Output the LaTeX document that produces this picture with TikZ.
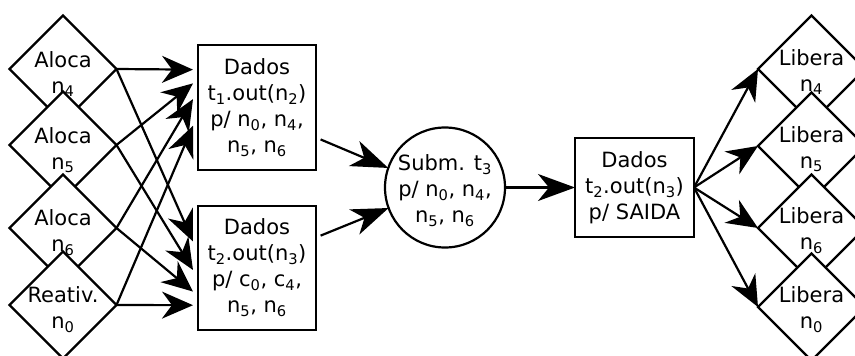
\documentclass[tikz,border=0pt]{standalone}
\usepackage{fontspec}
\setmainfont{DejaVu Sans}
\usetikzlibrary{arrows.meta,shapes.geometric,calc}
\newcommand\sbs[1]{\textsubscript{#1}}
\begin{document}
\begin{tikzpicture}[x=1pt,y=-1pt,line width=2.2pt,
  txt/.style={font=\fontsize{21}{26}\selectfont, align=center, inner sep=0pt},
  dia/.style={diamond, draw, fill=white, minimum width=107pt, minimum height=107pt, inner sep=0pt, outer sep=0pt},
  box/.style={rectangle, draw, fill=white, outer sep=0pt, txt},
  rnd/.style={circle, draw, fill=white, minimum size=120pt, inner sep=0pt, outer sep=0pt},
  arr/.style={-{Stealth[length=31pt,width=27pt,inset=10pt]}},
  longarr/.style={-{Stealth[length=37pt,width=27pt,inset=11pt]}}]
\useasboundingbox[fill=white] (0,0) rectangle (855,356);
\clip (0,0) rectangle (855,356);

% allocation / reactivation steps on the left
\node[dia] (a4) at (63,69) {};
\node[dia] (a5) at (63,145) {};
\node[dia] (a6) at (63,228) {};
\node[dia] (r0) at (63,305) {};
\node[txt] (a4t) at (63,74) {Aloca\\n\sbs{4}};
\node[txt] (a5t) at (63,150) {Aloca\\n\sbs{5}};
\node[txt] (a6t) at (63,233) {Aloca\\n\sbs{6}};
\node[txt] (r0t) at (63,310) {Reativ.\\n\sbs{0}};

% data transfers
\node[box, minimum width=118pt, minimum height=125pt] (b1) at (257,107.5)
  {Dados\\t\sbs{1}.out(n\sbs{2})\\p/ n\sbs{0}, n\sbs{4},\\n\sbs{5}, n\sbs{6}};
\node[box, minimum width=118pt, minimum height=124pt] (b2) at (257,268)
  {Dados\\t\sbs{2}.out(n\sbs{3})\\p/ c\sbs{0}, c\sbs{4},\\n\sbs{5}, n\sbs{6}};

% submission
\node[rnd] (s3) at (445,187.5) {};
\node[txt] (s3t) at (445,191) {Subm. t\sbs{3}\\p/ n\sbs{0}, n\sbs{4},\\n\sbs{5}, n\sbs{6}};

\node[box, minimum width=119pt, minimum height=99pt] (b3) at (634.5,187.5)
  {Dados\\t\sbs{2}.out(n\sbs{3})\\p/ SAIDA};

% release steps on the right
\node[dia] (l4) at (811.5,69) {};
\node[dia] (l5) at (811.5,146) {};
\node[dia] (l6) at (811.5,228) {};
\node[dia] (l0) at (811.5,307) {};
\node[txt] (l4t) at (811.5,72) {Libera\\n\sbs{4}};
\node[txt] (l5t) at (811.5,149) {Libera\\n\sbs{5}};
\node[txt] (l6t) at (811.5,231) {Libera\\n\sbs{6}};
\node[txt] (l0t) at (811.5,310) {Libera\\n\sbs{0}};

% entry points on the left sides of the two data boxes
\foreach \f [count=\i] in {0.197,0.307,0.433,0.646}
  \coordinate (p\i) at ($(b1.north west)!\f!(b1.south west)+(-5,0)$);
\foreach \f [count=\i] in {0.286,0.516,0.690,0.800}
  \coordinate (q\i) at ($(b2.north west)!\f!(b2.south west)+(-5,0)$);

\draw[arr] (a4.east) -- (p1);
\draw[arr] (a4.east) -- (q1);
\draw[arr] (a5.east) -- (p2);
\draw[arr] (a5.east) -- (q2);
\draw[arr] (a6.east) -- (p3);
\draw[arr] (a6.east) -- (q3);
\draw[arr] (r0.east) -- (p4);
\draw[arr] (r0.east) -- (q4);

\draw[longarr, shorten <=5pt] ($(b1.north east)!0.74!(b1.south east)$) -- (s3.161);
\draw[longarr, shorten <=5pt] ($(b2.north east)!0.254!(b2.south east)$) -- (s3.200);
\draw[longarr] (s3.east) -- (b3.west);

\draw[arr] (b3.east) -- (l4.west);
\draw[arr] (b3.east) -- (l5.west);
\draw[arr] (b3.east) -- (l6.west);
\draw[arr] (b3.east) -- (l0.west);
\end{tikzpicture}
\end{document}
